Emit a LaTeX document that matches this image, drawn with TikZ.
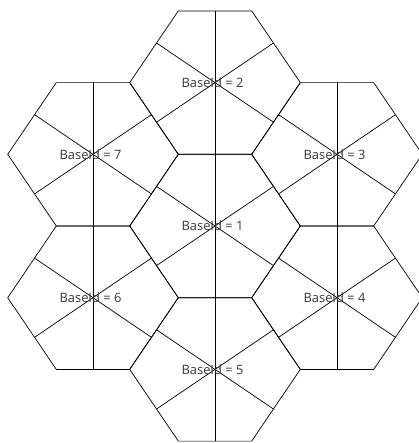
\documentclass[tikz,border=0pt]{standalone}
\usepackage{fontspec}
\setmainfont{Open Sans}
\usetikzlibrary{calc}
\definecolor{labelGray}{HTML}{383838}

\begin{document}
\begin{tikzpicture}[x=0.03cm, y=-0.03cm, cell/.style={draw, line width=0.6pt}, every node/.style={font=\fontsize{11}{13}\selectfont, text=labelGray, inner sep=0pt}]
    \useasboundingbox (0,0) rectangle (419,443);
    % seven cells: id / centre x / centre y (pixels, y downwards)
    \foreach \id/\cx/\cy in {1/215/226, 2/215/82.6, 3/337/154.3, 4/337/297.7, 5/215/369.4, 6/93/297.7, 7/93/154.3} {
      \begin{scope}[shift={(\cx,\cy)}]
        \coordinate (c) at (0,0);
        \coordinate (l) at (-85.3,0);
        \coordinate (r) at (85.3,0);
        \coordinate (tl) at (-36.7,-71.7);
        \coordinate (tr) at (36.7,-71.7);
        \coordinate (bl) at (-36.7,71.7);
        \coordinate (br) at (36.7,71.7);
        \coordinate (t) at (0,-71.7);
        \coordinate (b) at (0,71.7);
        \draw[cell] (l) -- (tl) -- (tr) -- (r) -- (br) -- (bl) -- cycle;
        \draw[cell] (t) -- (b);
        \draw[cell] ($(l)!(c)!(tl)$) -- ($(r)!(c)!(br)$);
        \draw[cell] ($(r)!(c)!(tr)$) -- ($(l)!(c)!(bl)$);
        \node (base\id) at (-2.5,0) {BaseId = \id};
      \end{scope}
    }
  \end{tikzpicture}
\end{document}
